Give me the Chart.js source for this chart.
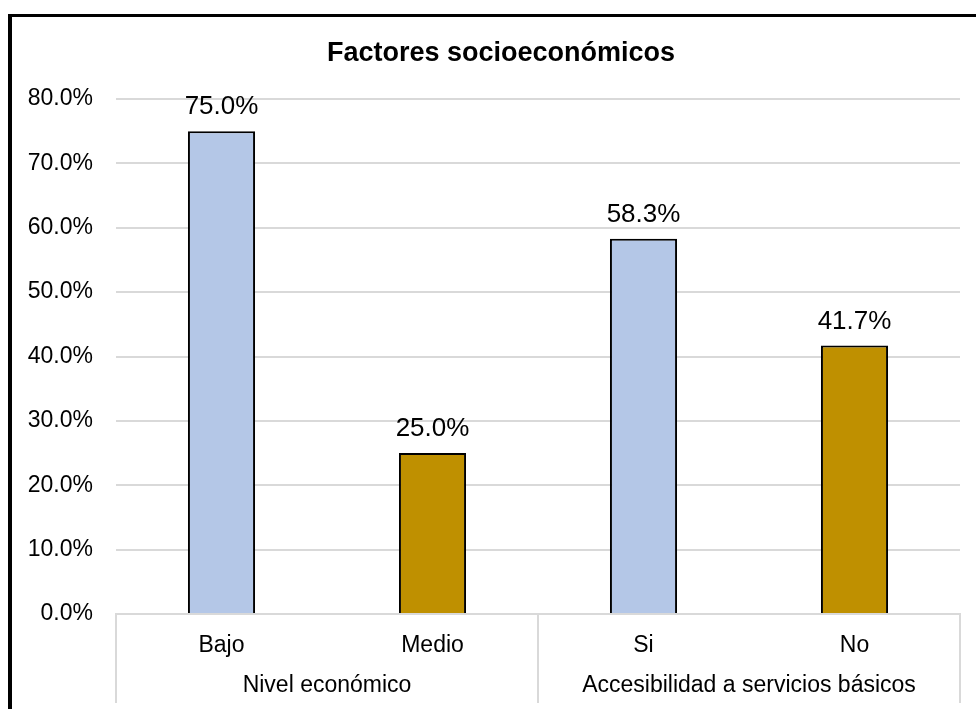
<!DOCTYPE html>
<html>
<head>
<meta charset="utf-8">
<script src="https://cdn.jsdelivr.net/npm/chart.js@4/dist/chart.umd.min.js"></script>
<style>
  html, body { margin: 0; padding: 0; background: #fff; }
  #wrap { position: relative; width: 976px; height: 709px; overflow: hidden; }
  #frame {
    position: absolute; left: 8px; top: 14px; width: 1000px; height: 800px;
    border-left: 4px solid #000; border-top: 3px solid #000; pointer-events: none;
  }
  canvas { position: absolute; left: 0; top: 0; }
</style>
</head>
<body>
<div id="wrap">
  <canvas id="chart" width="976" height="709"></canvas>
  <div id="frame"></div>
</div>
<script>
document.addEventListener("DOMContentLoaded", function() {

let chartTitle = "Factores socioeconómicos";
let categories = ["Bajo", "Medio", "Si", "No"];
let percentages = [75.0, 25.0, 58.3, 41.7];
let groupLabels = ["Nivel económico", "Accesibilidad a servicios básicos"];
let groupSizes = [2, 2];
let yTicks = [0, 10, 20, 30, 40, 50, 60, 70, 80];

const FONT = "'Liberation Sans', Arial, sans-serif";
const GRID = "#D9D9D9";

// title, centred over the framed area rather than the plot
const titleText = {
  id: "titleText",
  afterDraw(chart) {
    const ctx = chart.ctx;
    ctx.save();
    ctx.font = "bold 27px " + FONT;
    ctx.fillStyle = "#000";
    ctx.textAlign = "center";
    ctx.textBaseline = "middle";
    ctx.fillText(chartTitle, 501, 54);
    ctx.restore();
  }
};

// value text above every bar
const barLabels = {
  id: "barLabels",
  afterDatasetsDraw(chart) {
    const ctx = chart.ctx;
    const meta = chart.getDatasetMeta(0);
    ctx.save();
    ctx.font = "26px " + FONT;
    ctx.fillStyle = "#000";
    ctx.textAlign = "center";
    ctx.textBaseline = "alphabetic";
    meta.data.forEach((bar, i) => {
      ctx.fillText(percentages[i].toFixed(1) + "%", bar.x, bar.y - 17);
    });
    ctx.restore();
  }
};

// second row of the x axis: group names with separators
const groupAxis = {
  id: "groupAxis",
  afterDraw(chart) {
    const ctx = chart.ctx;
    const x = chart.scales.x;
    const step = (x.right - x.left) / categories.length;
    const bottom = chart.height - 6;
    ctx.save();
    ctx.strokeStyle = GRID;
    ctx.lineWidth = 2;
    ctx.font = "23px " + FONT;
    ctx.fillStyle = "#000";
    ctx.textAlign = "center";
    ctx.textBaseline = "middle";
    let start = 0;
    groupLabels.forEach((name, g) => {
      const end = start + groupSizes[g] - 1;
      const left = x.getPixelForValue(start) - step / 2;
      const right = x.getPixelForValue(end) + step / 2;
      ctx.beginPath();
      ctx.moveTo(Math.round(left), x.top);
      ctx.lineTo(Math.round(left), bottom);
      if (g === groupLabels.length - 1) {
        ctx.moveTo(Math.round(right), x.top);
        ctx.lineTo(Math.round(right), bottom);
      }
      ctx.stroke();
      ctx.fillText(name, (left + right) / 2, x.top + 72);
      start = end + 1;
    });
    ctx.restore();
  }
};

new Chart(document.getElementById("chart").getContext("2d"), {
  type: "bar",
  data: {
    labels: categories,
    datasets: [{
      data: percentages,
      backgroundColor: ctx => ctx.dataIndex % 2 === 0 ? "#B4C7E7" : "#BF9000",
      borderColor: "#000",
      borderWidth: 2,
      barPercentage: 0.318,
      categoryPercentage: 1
    }]
  },
  options: {
    responsive: false,
    animation: false,
    layout: { padding: { left: 0, right: 16, top: 99, bottom: 0 } },
    plugins: {
      legend: { display: false },
      tooltip: { enabled: false },
      title: { display: false }
    },
    scales: {
      y: {
        min: 0,
        max: 80,
        afterFit: s => { s.width = 116; },
        afterBuildTicks: s => { s.ticks = yTicks.map(v => ({ value: v })); },
        ticks: {
          color: "#000",
          padding: 23,
          font: { family: FONT, size: 23 },
          callback: v => v.toFixed(1) + "%"
        },
        grid: { color: GRID, lineWidth: 2, drawTicks: false },
        border: { display: false }
      },
      x: {
        afterFit: s => { s.height = 95; },
        ticks: {
          color: "#000",
          padding: 18,
          font: { family: FONT, size: 23 }
        },
        grid: { display: false, drawTicks: false },
        border: { display: true, color: GRID, width: 2 }
      }
    }
  },
  plugins: [titleText, barLabels, groupAxis]
});

});
</script>
</body>
</html>
